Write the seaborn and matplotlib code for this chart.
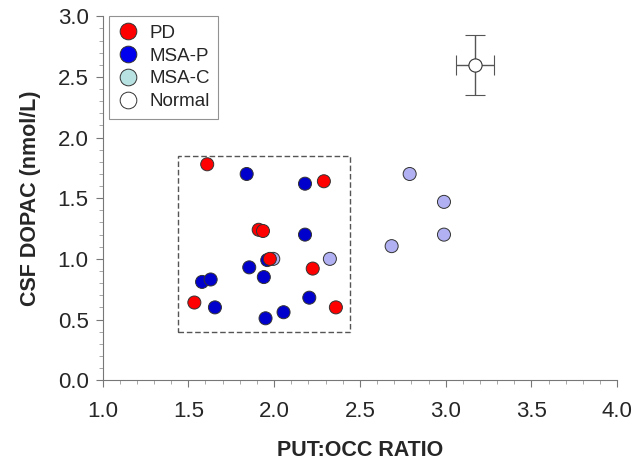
import matplotlib
matplotlib.use("Agg")
import matplotlib.pyplot as plt
import seaborn as sns
import pandas as pd
from matplotlib.lines import Line2D
from matplotlib.patches import Rectangle
from matplotlib.ticker import MultipleLocator

# values
pd_x = [1.61, 2.29, 1.91, 1.935, 1.975, 2.225, 1.535, 2.36]
pd_y = [1.78, 1.64, 1.24, 1.23, 1.00, 0.92, 0.64, 0.60]
msap_x = [1.84, 2.18, 2.18, 1.855, 1.94, 1.58, 1.63, 1.655, 1.95, 2.055, 2.205, 1.96]
msap_y = [1.70, 1.62, 1.20, 0.93, 0.85, 0.81, 0.83, 0.60, 0.51, 0.56, 0.68, 0.99]
msac_x = [1.995, 2.325, 2.79, 2.99, 2.99, 2.685]
msac_y = [1.00, 1.00, 1.70, 1.47, 1.20, 1.105]
normal_x, normal_y = 3.17, 2.60
normal_xerr, normal_yerr = 0.11, 0.25
box_x = (1.44, 2.44)
box_y = (0.40, 1.85)

groups = ["PD", "MSA-P", "MSA-C", "Normal"]
point_colors = {"PD": "#ff0000", "MSA-P": "#0000cc", "MSA-C": "#b0b0f2"}
legend_colors = {"PD": "#ff0000", "MSA-P": "#0000ee", "MSA-C": "#b8e2e2", "Normal": "white"}

df = pd.concat([
    pd.DataFrame({"ratio": msac_x, "dopac": msac_y, "group": "MSA-C"}),
    pd.DataFrame({"ratio": msap_x, "dopac": msap_y, "group": "MSA-P"}),
    pd.DataFrame({"ratio": pd_x, "dopac": pd_y, "group": "PD"}),
], ignore_index=True)

sns.set_style("ticks")
plt.rcParams["font.family"] = ["Liberation Sans", "DejaVu Sans"]

fig = plt.figure(figsize=(6.37, 4.67), dpi=100)
ax = fig.add_axes([0.161, 0.186, 0.808, 0.779])

ax.add_patch(Rectangle((box_x[0], box_y[0]), box_x[1] - box_x[0], box_y[1] - box_y[0],
                       fill=False, ls=(0, (4, 2)), lw=1.0, ec="#555555", zorder=1))

sns.scatterplot(data=df, x="ratio", y="dopac", hue="group", palette=point_colors,
                s=88, edgecolor="#333333", linewidth=0.7, legend=False, ax=ax, zorder=3)

ax.errorbar(normal_x, normal_y, xerr=normal_xerr, yerr=normal_yerr, fmt="o",
            ms=9.5, mfc="white", mec="#333333", mew=0.8, ecolor="#555555",
            elinewidth=1.0, capsize=7, capthick=1.0, zorder=3)

ax.set_xlim(1.0, 4.0)
ax.set_ylim(0.0, 3.0)
ax.xaxis.set_major_locator(MultipleLocator(0.5))
ax.xaxis.set_minor_locator(MultipleLocator(0.1))
ax.yaxis.set_major_locator(MultipleLocator(0.5))
ax.yaxis.set_minor_locator(MultipleLocator(0.1))
ax.xaxis.set_major_formatter(lambda v, p: f"{v:.1f}")
ax.yaxis.set_major_formatter(lambda v, p: f"{v:.1f}")
ax.tick_params(which="major", length=5, width=0.8, color="#777777", labelsize=16)
ax.tick_params(axis="x", which="major", pad=10)
ax.tick_params(axis="y", which="major", pad=5)
ax.tick_params(which="minor", length=3, width=0.6, color="#999999")

sns.despine(ax=ax)
for side in ("left", "bottom"):
    ax.spines[side].set_color("#777777")
    ax.spines[side].set_linewidth(0.8)

ax.set_xlabel("PUT:OCC RATIO", fontsize=15.5, fontweight="bold", labelpad=13)
ax.set_ylabel("CSF DOPAC (nmol/L)", fontsize=15.5, fontweight="bold", labelpad=12)

handles = [Line2D([], [], ls="", marker="o", ms=12, mfc=legend_colors[g],
                  mec="#333333", mew=0.7, label=g) for g in groups]
leg = ax.legend(handles=handles, loc="upper left", bbox_to_anchor=(0.012, 1.0),
                fontsize=13.5, frameon=True, fancybox=False, handletextpad=0.5,
                handlelength=1.2, borderpad=0.45, labelspacing=0.3, borderaxespad=0)
leg.get_frame().set_edgecolor("#777777")
leg.get_frame().set_linewidth(0.8)

fig.savefig("out.png", dpi=100)
